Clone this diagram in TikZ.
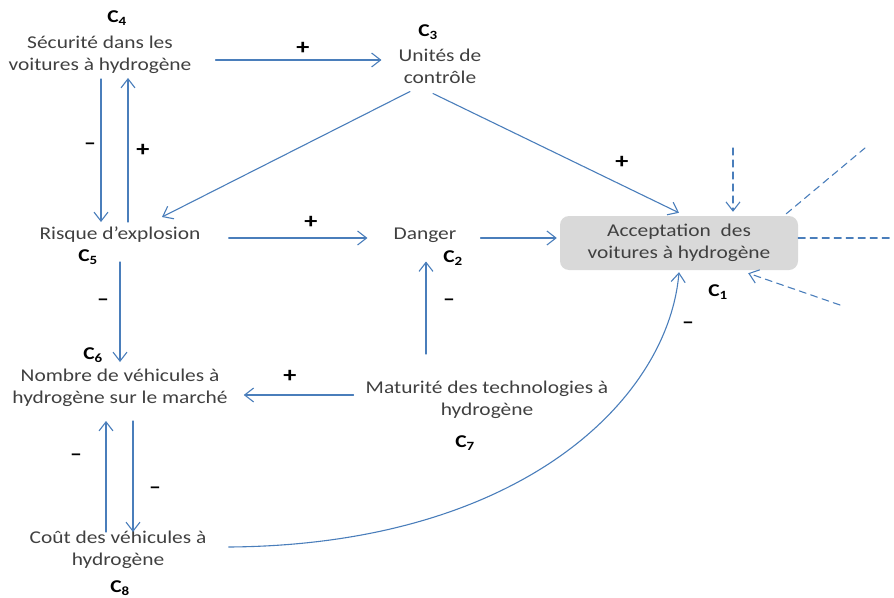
\documentclass[tikz,border=0pt]{standalone}
\usepackage{fontspec}
\setmainfont{Carlito}[FakeStretch=1.19]
\usetikzlibrary{arrows.meta}
\definecolor{lien}{RGB}{74,126,187}
\definecolor{boite}{RGB}{217,217,217}
\definecolor{texte}{RGB}{64,64,64}
\newcommand{\Cnum}[1]{\textbf{C}\textsubscript{\textbf{#1}}}
\newcommand{\moins}{{\fontsize{20}{20}\selectfont --}}
\tikzset{
	txt/.style={align=center, text=texte, inner sep=2pt},
	cnum/.style={inner sep=0pt, text=black},
	sign/.style={inner sep=0pt, text=black, font=\fontsize{22}{22}\selectfont\bfseries},
	fleche/.style={->, draw=lien, line width=1.1pt},
	tiret/.style={draw=lien, line width=1.1pt, dash pattern=on 7pt off 5pt}
}
\begin{document}
\begin{tikzpicture}[x=1pt,y=-1pt,>={Straight Barb[length=9pt,width=14pt]}, font=\fontsize{18}{22}\selectfont, line join=round, line cap=round]
		\useasboundingbox (0,0) rectangle (894,597);
		% Facteurs
		\node[txt] (c4) at (100,55) {Sécurité dans les\\voitures à hydrogène};
		\node[txt] (c3) at (440,66) {Unités de\\contrôle};
		\node[txt] (c5) at (120,235) {Risque d’explosion};
		\node[txt] (c2) at (425,235) {Danger};
		\node[txt, fill=boite, rounded corners=9pt, minimum width=238pt, minimum height=54pt] (c1) at (679,243) {Acceptation~ des\\voitures à hydrogène};
		\node[txt] (c6) at (120,388) {Nombre de véhicules à\\hydrogène sur le marché};
		\node[txt] (c7) at (487,400) {Maturité des technologies à\\hydrogène};
		\node[txt] (c8) at (118,550) {Coût des véhicules à\\hydrogène};
		% Numeros
		\node[cnum] (n1) at (718,292) {\Cnum{1}};
		\node[cnum] (n2) at (453,258) {\Cnum{2}};
		\node[cnum] (n3) at (428,32) {\Cnum{3}};
		\node[cnum] (n4) at (117,18) {\Cnum{4}};
		\node[cnum] (n5) at (88,257) {\Cnum{5}};
		\node[cnum] (n6) at (93,355) {\Cnum{6}};
		\node[cnum] (n7) at (465,443) {\Cnum{7}};
		\node[cnum] (n8) at (120,588) {\Cnum{8}};
		% Liens
		\draw[fleche] ([yshift=-5pt,xshift=22pt]c4.east) -- ([yshift=-5pt,xshift=-15pt]c4.east -| c3.west);
		\draw[fleche] ([xshift=-30pt,yshift=-6pt]c3.south) -- ([xshift=42pt,yshift=8pt]c5.north);
		\draw[fleche] ([xshift=-7pt,yshift=-8pt]c3.south) -- ([yshift=3pt]c1.north);
		\draw[fleche] ([xshift=1pt,yshift=-3pt]c4.south) -- ([xshift=1pt,yshift=3pt]c4.south |- c5.north);
		\draw[fleche] ([xshift=28pt,yshift=3pt]c5.north -| c4.south) -- ([xshift=28pt,yshift=-2pt]c4.south);
		\draw[fleche] ([xshift=26pt,yshift=-3pt]c5.east) -- ([xshift=-24pt,yshift=-3pt]c2.west);
		\draw[fleche] ([xshift=22pt,yshift=-3pt]c2.east) -- ([xshift=-3pt,yshift=5pt]c1.west);
		\draw[fleche] ([yshift=-17pt]c5.south) -- ([yshift=5pt]c6.north);
		\draw[fleche] ([yshift=5pt,xshift=-10pt]c7.west) -- ([yshift=5pt,xshift=14pt]c7.west -| c6.east);
		\draw[fleche] ([xshift=-61pt,yshift=25pt]c7.north) -- ([xshift=-61pt,yshift=-17pt]c7.north |- c2.south);
		\draw[fleche] ([xshift=-12pt,yshift=-3pt]c8.north) -- ([xshift=-12pt,yshift=-12pt]c8.north |- c6.south);
		\draw[fleche] ([xshift=15pt,yshift=-12pt]c8.north |- c6.south) -- ([xshift=15pt,yshift=-3pt]c8.north);
		\draw[fleche] ([xshift=20pt,yshift=3pt]c8.east) .. controls (520,545) and (668,400) .. ([yshift=-2pt]c1.south);
		% Autres influences
		\coordinate (d1) at (733,148);
		\coordinate (d2) at (865,148);
		\coordinate (d3) at (894,238);
		\coordinate (d4) at (840,305);
		\draw[tiret, ->] (d1) -- ([yshift=4pt]d1 |- c1.north);
		\draw[tiret] ([xshift=-12pt,yshift=2pt]c1.north east) -- (d2);
		\draw[tiret] ([yshift=5pt]c1.east) -- (d3);
		\draw[tiret, ->] (d4) -- ([xshift=-50pt,yshift=-3pt]c1.south east);
		% Signes
		\foreach \p/\s [count=\i] in {{(303,48)}/+, {(143,150)}/+, {(90,146)}/\moins, {(622,162)}/+, {(311,222)}/+, {(103,302)}/\moins, {(449,302)}/\moins, {(290,376)}/+, {(76,457)}/\moins, {(155,490)}/\moins, {(688,325)}/\moins}
		\node[sign] (s\i) at \p {\s};
\end{tikzpicture}
\end{document}
